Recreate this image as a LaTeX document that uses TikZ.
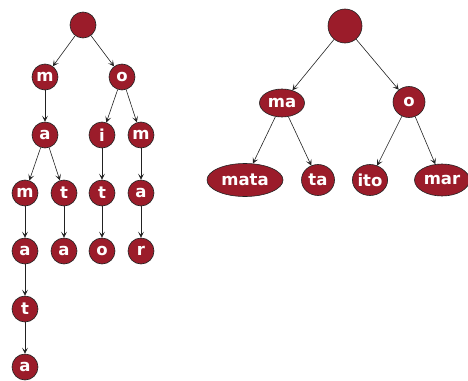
\documentclass[tikz,border=0pt]{standalone}
\usepackage{fontspec}
\setmainfont{DejaVu Sans}
\usetikzlibrary{arrows.meta,shapes.geometric}
\definecolor{nodered}{HTML}{9B1C2A}
\definecolor{edgegray}{HTML}{222222}
\begin{document}
\begin{tikzpicture}[x=1pt,y=-1pt,
  trienode/.style={circle,draw=edgegray,line width=0.6pt,fill=nodered,inner sep=0pt,minimum size=26pt,
    text=white,font=\fontsize{16.5}{18}\selectfont\bfseries},
  radnode/.style={ellipse,draw=edgegray,line width=0.6pt,fill=nodered,inner sep=0pt,
    text=white,font=\fontsize{16.5}{18}\selectfont\bfseries},
  link/.style={draw=edgegray,line width=0.6pt,-{Stealth[length=6pt,width=6pt,inset=3pt]}}]
\useasboundingbox (0,0) rectangle (468,380);
% left trie
\node[trienode] (r) at (83,25) {};
\node[trienode] (m) at (45,77) {m};
\node[trienode] (o) at (122,77) {o};
\node[trienode] (ma) at (45,135) {a};
\node[trienode] (oi) at (102,135) {i};
\node[trienode] (om) at (141,135) {m};
\node[trienode] (mam) at (25,193) {m};
\node[trienode] (mat) at (64,193) {t};
\node[trienode] (oit) at (102,193) {t};
\node[trienode] (oma) at (141,193) {a};
\node[trienode] (mama) at (25,251) {a};
\node[trienode] (mata) at (64,251) {a};
\node[trienode] (oito) at (102,251) {o};
\node[trienode] (omar) at (141,251) {r};
\node[trienode] (mamat) at (25,309) {t};
\node[trienode] (mamata) at (25,367) {a};
\draw[link] (r) -- (m);
\draw[link] (r) -- (o);
\draw[link] (m) -- (ma);
\draw[link] (o) -- (oi);
\draw[link] (o) -- (om);
\draw[link] (ma) -- (mam);
\draw[link] (ma) -- (mat);
\draw[link] (oi) -- (oit);
\draw[link] (om) -- (oma);
\draw[link] (mam) -- (mama);
\draw[link] (mat) -- (mata);
\draw[link] (oit) -- (oito);
\draw[link] (oma) -- (omar);
\draw[link] (mama) -- (mamat);
\draw[link] (mamat) -- (mamata);
% right radix tree
\node[radnode,minimum width=34pt,minimum height=34pt] (R) at (345,26) {};
\node[radnode,minimum width=45pt,minimum height=28pt] (Rma) at (282,103) {ma};
\node[radnode,minimum width=32pt,minimum height=31pt] (Ro) at (409,102) {o};
\node[radnode,minimum width=76pt,minimum height=33pt] (Rmata) at (245,180) {mata};
\node[radnode,minimum width=33pt,minimum height=31pt] (Rta) at (318,180) {ta};
\node[radnode,minimum width=33pt,minimum height=31pt] (Rito) at (370,180) {ito};
\node[radnode,minimum width=55pt,minimum height=32pt] (Rmar) at (442,180) {mar};
\draw[link] (R) -- (Rma);
\draw[link] (R) -- (Ro);
\draw[link] (Rma) -- (Rmata);
\draw[link] (Rma) -- (Rta);
\draw[link] (Ro) -- (Rito);
\draw[link] (Ro) -- (Rmar);
\end{tikzpicture}
\end{document}
